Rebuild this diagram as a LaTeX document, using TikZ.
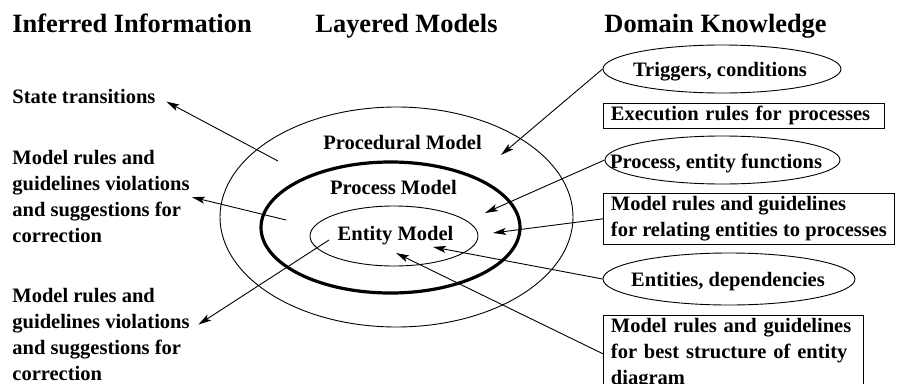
\documentclass[tikz,border=0pt]{standalone}
\usepackage{fontspec}
\setmainfont{Liberation Serif}
\usetikzlibrary{arrows.meta,shapes.geometric}

\begin{document}
\begin{tikzpicture}[x=1pt,y=-1pt,line width=0.9pt,>={Stealth[length=13pt,width=7pt,inset=3pt]},
  txt/.style={inner sep=0pt,align=left,font=\fontsize{20.5}{26}\selectfont\bfseries},
  head/.style={inner sep=0pt,anchor=base west,font=\fontsize{26.4}{30}\selectfont\bfseries},
  layer/.style={draw,ellipse,inner sep=0pt},
  oval/.style={draw,ellipse,inner sep=0pt},
  box/.style={draw,anchor=north west,inner xsep=7.5pt,inner ysep=3pt,align=left,font=\fontsize{20.5}{26}\selectfont\bfseries}]
  \useasboundingbox (0,0) rectangle (897,383);
  \node[head] (hinf) at (12,32) {Inferred Information};
  \node[head] (hlay) at (315,32) {Layered Models};
  \node[head] (hdom) at (604,32) {Domain Knowledge};
  \node[layer,minimum width=353,minimum height=220] (proc) at (396.5,217) {};
  \node[layer,line width=3.2pt,minimum width=259,minimum height=131] (pm) at (390.5,227.5) {};
  \node[layer,minimum width=168,minimum height=60] (em) at (394,236) {};
  \node[txt,anchor=base] (lproc) at (402.5,149) {Procedural Model};
  \node[txt,anchor=base] (lpm) at (393.5,194) {Process Model};
  \node[txt,anchor=base] (lem) at (395.5,240) {Entity Model};
  \node[txt,anchor=base west] (st) at (12,103) {State transitions};
  \node[txt,anchor=north west] (v1) at (12,150) {Model rules and\\guidelines violations\\and suggestions for\\correction};
  \node[txt,anchor=north west] (v2) at (12,288) {Model rules and\\guidelines violations\\and suggestions for\\correction};
  \node[oval,minimum width=238,minimum height=48] (trig) at (722,69) {};
  \node[txt] (ltrig) at (720,72) {Triggers, conditions};
  \node[box,text width=266] (exec) at (603,103) {Execution rules for processes};
  \node[oval,minimum width=235,minimum height=48] (fun) at (722.5,160) {};
  \node[txt] (lfun) at (716,163) {Process, entity functions};
  \node[box] (rel) at (603,193) {Model rules and guidelines\\for relating entities to processes};
  \node[oval,minimum width=252,minimum height=52] (dep) at (729,279) {};
  \node[txt] (ldep) at (728,282) {Entities, dependencies};
  \node[box,text width=245] (best) at (603,315) {Model rules and guidelines\\for best structure of entity\\diagram};
  \coordinate (pst) at (278,161); \coordinate (pv1) at (286,220); \coordinate (pv2) at (329,240);
  \coordinate (ttrig) at (501,155); \coordinate (tfun) at (485,213); \coordinate (trel) at (493,233);
  \coordinate (tdep) at (433,247); \coordinate (tbest) at (396,253);
  \draw[->,shorten >=12pt] (pst)--(st.east); \draw[->,shorten >=2pt] (pv1)--(v1.east);
  \draw[->,shorten >=10pt] (pv2)--(v2.3);
  \draw[->] (trig.west)--(ttrig); \draw[->] (fun.west)--(tfun); \draw[->] (rel.west)--(trel);
  \draw[->] (dep.west)--(tdep); \draw[->] (best.west)--(tbest);
\end{tikzpicture}
\end{document}
